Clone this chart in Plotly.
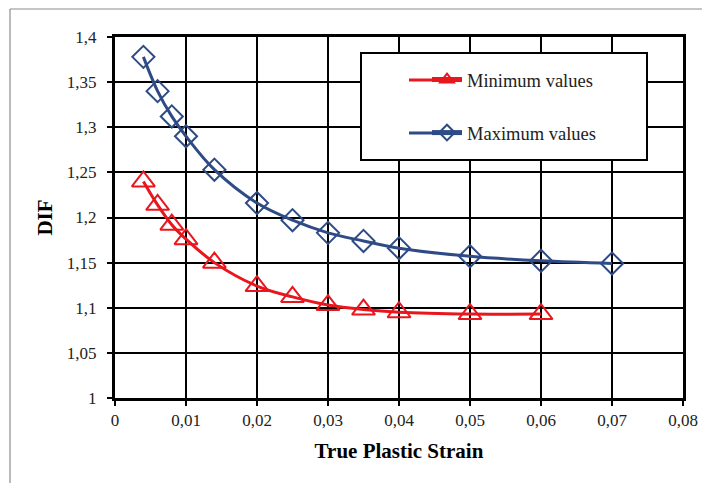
import plotly.graph_objects as go

strain_min = [0.004, 0.006, 0.008, 0.010, 0.014, 0.020, 0.025, 0.030, 0.035, 0.040, 0.050, 0.060]
dif_min = [1.240, 1.214, 1.192, 1.176, 1.150, 1.124, 1.112, 1.103, 1.098, 1.095, 1.093, 1.093]

strain_max = [0.004, 0.006, 0.008, 0.010, 0.014, 0.020, 0.025, 0.030, 0.035, 0.040, 0.050, 0.060, 0.070]
dif_max = [1.378, 1.340, 1.312, 1.290, 1.253, 1.216, 1.197, 1.183, 1.174, 1.166, 1.157, 1.152, 1.149]

x_ticks = [0, 0.01, 0.02, 0.03, 0.04, 0.05, 0.06, 0.07, 0.08]
x_ticklabels = ["0", "0,01", "0,02", "0,03", "0,04", "0,05", "0,06", "0,07", "0,08"]
y_ticks = [1, 1.05, 1.1, 1.15, 1.2, 1.25, 1.3, 1.35, 1.4]
y_ticklabels = ["1", "1,05", "1,1", "1,15", "1,2", "1,25", "1,3", "1,35", "1,4"]

RED = "#E8161D"
BLUE = "#2E4B85"
# page is 710x483; the html body has an 8px margin
OFF = 8
W, H = 710 - OFF, 483 - OFF
L, R, T, B = 115 - OFF, 27, 37 - OFF, 85
pw, ph = W - L - R, H - T - B
PLOT_LEFT_PAGE = L + OFF
PLOT_BOTTOM_PAGE = OFF + H - B


def px(xp):
    return (xp - PLOT_LEFT_PAGE) / pw


def py(yp):
    return (PLOT_BOTTOM_PAGE - yp) / ph


fig = go.Figure()
fig.add_trace(go.Scatter(
    x=strain_min, y=dif_min, name="Minimum values", mode="lines+markers",
    line=dict(color=RED, width=3, shape="spline"),
    marker=dict(symbol="triangle-up-open", size=20, color=RED, line=dict(width=2, color=RED)),
    legendgroup="a",
))
fig.add_trace(go.Scatter(
    x=strain_max, y=dif_max, name="Maximum values", mode="lines+markers",
    line=dict(color=BLUE, width=3, shape="spline"),
    marker=dict(symbol="diamond-open", size=17, color=BLUE, line=dict(width=2, color=BLUE)),
    legendgroup="b",
))

font_serif = "Liberation Serif, Times New Roman, serif"

fig.update_layout(
    width=W, height=H,
    margin=dict(l=L, r=R, t=T, b=B),
    paper_bgcolor="white", plot_bgcolor="white",
    font=dict(family=font_serif, color="black", size=17),
    showlegend=True,
    legend=dict(
        x=px(427), y=py(61), xanchor="left", yanchor="top",
        bgcolor="rgba(0,0,0,0)", borderwidth=0,
        font=dict(family=font_serif, size=18.5, color="#222"),
        traceorder="grouped", tracegroupgap=26,
        itemsizing="constant",
    ),
    xaxis=dict(
        range=[0, 0.08], tickvals=x_ticks, ticktext=x_ticklabels,
        showgrid=True, gridcolor="black", gridwidth=2,
        showline=True, linecolor="black", linewidth=3, mirror=True,
        ticks="outside", ticklen=5, tickwidth=2, tickcolor="black",
        zeroline=False,
        tickfont=dict(family=font_serif, size=17, color="#222"),
        title=dict(text="<b>True Plastic Strain</b>", font=dict(family=font_serif, size=21), standoff=14),
    ),
    yaxis=dict(
        range=[1, 1.4], tickvals=y_ticks, ticktext=y_ticklabels,
        showgrid=True, gridcolor="black", gridwidth=2,
        showline=True, linecolor="black", linewidth=3, mirror=True,
        ticks="outside", ticklen=5, tickwidth=2, tickcolor="black",
        ticklabelstandoff=7,
        zeroline=False,
        tickfont=dict(family=font_serif, size=17, color="#222"),
        title=dict(text="<b>DIF</b>", font=dict(family=font_serif, size=21), standoff=9),
    ),
    shapes=[
        # legend box
        dict(type="rect", xref="paper", yref="paper",
             x0=px(361), x1=px(647), y0=py(160), y1=py(53),
             line=dict(color="black", width=2), fillcolor="white", layer="above"),
        # legend sample line extensions (longer sample lines as in the original)
        dict(type="line", xref="paper", yref="paper",
             x0=px(409), x1=px(436), y0=py(80), y1=py(80),
             line=dict(color=RED, width=3), layer="above"),
        dict(type="line", xref="paper", yref="paper",
             x0=px(409), x1=px(436), y0=py(133), y1=py(133),
             line=dict(color=BLUE, width=3), layer="above"),
        # outer frame lines
        dict(type="line", xref="paper", yref="paper",
             x0=px(10), x1=px(720), y0=py(9), y1=py(9),
             line=dict(color="#8c8c8c", width=1.2)),
        dict(type="line", xref="paper", yref="paper",
             x0=px(10), x1=px(10), y0=py(9), y1=py(495),
             line=dict(color="#8c8c8c", width=1.2)),
    ],
)

fig.write_html("out.html")
